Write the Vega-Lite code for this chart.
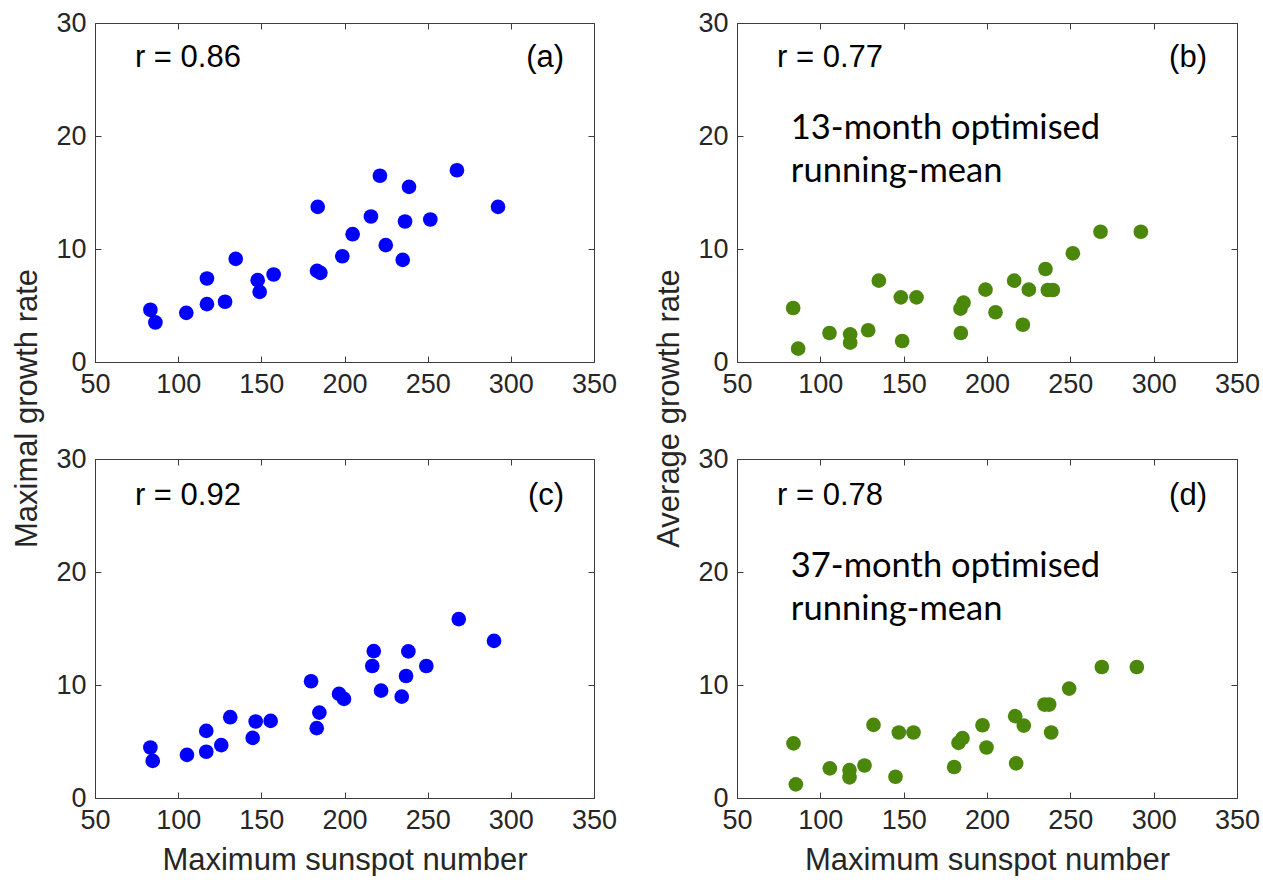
{
  "$schema": "https://vega.github.io/schema/vega-lite/v6.json",
  "background": "white",
  "padding": {"left": 11, "top": 8, "right": 0, "bottom": 0},
  "columns": 2,
  "spacing": {"row": 97, "column": 143},
  "bounds": "flush",
  "datasets": {
    "a": [
      {"sunspot": 83.3, "rate": 4.62}, {"sunspot": 86.3, "rate": 3.5}, {"sunspot": 104.9, "rate": 4.35},
      {"sunspot": 117.3, "rate": 7.39}, {"sunspot": 117.3, "rate": 5.12}, {"sunspot": 128.2, "rate": 5.33},
      {"sunspot": 134.6, "rate": 9.13}, {"sunspot": 147.8, "rate": 7.24}, {"sunspot": 149.0, "rate": 6.21},
      {"sunspot": 157.4, "rate": 7.74}, {"sunspot": 183.9, "rate": 13.73}, {"sunspot": 183.5, "rate": 8.07},
      {"sunspot": 185.5, "rate": 7.89}, {"sunspot": 198.7, "rate": 9.36}, {"sunspot": 204.9, "rate": 11.31},
      {"sunspot": 215.9, "rate": 12.88}, {"sunspot": 221.3, "rate": 16.48}, {"sunspot": 224.8, "rate": 10.34},
      {"sunspot": 235.0, "rate": 9.04}, {"sunspot": 236.4, "rate": 12.43}, {"sunspot": 238.8, "rate": 15.5},
      {"sunspot": 251.6, "rate": 12.61}, {"sunspot": 267.6, "rate": 16.97}, {"sunspot": 292.3, "rate": 13.73}
    ],
    "b": [
      {"sunspot": 83.7, "rate": 4.78}, {"sunspot": 86.7, "rate": 1.18}, {"sunspot": 105.5, "rate": 2.57},
      {"sunspot": 117.9, "rate": 2.45}, {"sunspot": 117.9, "rate": 1.71}, {"sunspot": 128.7, "rate": 2.81},
      {"sunspot": 135.1, "rate": 7.2}, {"sunspot": 148.3, "rate": 5.72}, {"sunspot": 149.1, "rate": 1.86},
      {"sunspot": 157.7, "rate": 5.72}, {"sunspot": 184.3, "rate": 2.57}, {"sunspot": 184.1, "rate": 4.72},
      {"sunspot": 185.9, "rate": 5.25}, {"sunspot": 199.1, "rate": 6.4}, {"sunspot": 205.1, "rate": 4.4},
      {"sunspot": 216.3, "rate": 7.2}, {"sunspot": 221.5, "rate": 3.3}, {"sunspot": 225.1, "rate": 6.4},
      {"sunspot": 235.1, "rate": 8.23}, {"sunspot": 236.5, "rate": 6.37}, {"sunspot": 239.5, "rate": 6.37},
      {"sunspot": 251.5, "rate": 9.62}, {"sunspot": 268.1, "rate": 11.53}, {"sunspot": 292.3, "rate": 11.53}
    ],
    "c": [
      {"sunspot": 83.3, "rate": 4.47}, {"sunspot": 84.7, "rate": 3.29}, {"sunspot": 105.3, "rate": 3.82},
      {"sunspot": 116.9, "rate": 5.94}, {"sunspot": 116.9, "rate": 4.09}, {"sunspot": 125.9, "rate": 4.68},
      {"sunspot": 131.3, "rate": 7.15}, {"sunspot": 144.8, "rate": 5.32}, {"sunspot": 146.6, "rate": 6.77},
      {"sunspot": 155.6, "rate": 6.82}, {"sunspot": 179.9, "rate": 10.33}, {"sunspot": 184.9, "rate": 7.56},
      {"sunspot": 183.3, "rate": 6.18}, {"sunspot": 196.7, "rate": 9.21}, {"sunspot": 199.7, "rate": 8.77},
      {"sunspot": 217.6, "rate": 13.0}, {"sunspot": 216.7, "rate": 11.68}, {"sunspot": 222.0, "rate": 9.5},
      {"sunspot": 234.4, "rate": 8.97}, {"sunspot": 237.0, "rate": 10.8}, {"sunspot": 238.4, "rate": 12.97},
      {"sunspot": 249.2, "rate": 11.68}, {"sunspot": 268.7, "rate": 15.83}, {"sunspot": 289.9, "rate": 13.9}
    ],
    "d": [
      {"sunspot": 83.9, "rate": 4.83}, {"sunspot": 85.3, "rate": 1.21}, {"sunspot": 105.7, "rate": 2.62},
      {"sunspot": 117.5, "rate": 2.47}, {"sunspot": 117.5, "rate": 1.83}, {"sunspot": 126.5, "rate": 2.88},
      {"sunspot": 131.9, "rate": 6.47}, {"sunspot": 145.1, "rate": 1.88}, {"sunspot": 147.1, "rate": 5.8},
      {"sunspot": 155.9, "rate": 5.8}, {"sunspot": 180.3, "rate": 2.74}, {"sunspot": 182.9, "rate": 4.88},
      {"sunspot": 185.3, "rate": 5.3}, {"sunspot": 197.3, "rate": 6.44}, {"sunspot": 199.7, "rate": 4.47},
      {"sunspot": 216.9, "rate": 7.24}, {"sunspot": 217.5, "rate": 3.06}, {"sunspot": 222.1, "rate": 6.41},
      {"sunspot": 234.5, "rate": 8.27}, {"sunspot": 237.3, "rate": 8.27}, {"sunspot": 238.5, "rate": 5.8},
      {"sunspot": 249.3, "rate": 9.68}, {"sunspot": 268.9, "rate": 11.59}, {"sunspot": 289.9, "rate": 11.59}
    ],
    "note": [{}]
  },
  "concat": [
    {
      "width": 499, "height": 339,
      "data": {"name": "a"},
      "layer": [
        {
          "mark": {"type": "point", "filled": true, "size": 215, "opacity": 1, "color": "#0000ff"},
          "encoding": {
            "x": {"field": "sunspot", "type": "quantitative", "scale": {"domain": [50, 350], "nice": false, "zero": false},
                  "axis": {"values": [50, 100, 150, 200, 250, 300, 350], "title": null}},
            "y": {"field": "rate", "type": "quantitative", "scale": {"domain": [0, 30], "nice": false},
                  "axis": {"values": [0, 10, 20, 30], "title": "Maximal growth rate", "titleY": 385}}
          }
        },
        {
          "mark": {"type": "point", "opacity": 0},
          "encoding": {
            "x": {"field": "sunspot", "type": "quantitative", "axis": {"orient": "top", "values": [50, 100, 150, 200, 250, 300, 350], "labels": false, "title": null}},
            "y": {"field": "rate", "type": "quantitative", "axis": {"orient": "right", "values": [0, 10, 20, 30], "labels": false, "title": null}}
          }
        },
        {
          "data": {"name": "note"},
          "mark": {"type": "text", "align": "left", "baseline": "middle", "fontSize": 31, "color": "#000000"},
          "encoding": {"x": {"datum": 74, "axis": null}, "y": {"datum": 26.9, "axis": null}, "text": {"value": "r = 0.86"}}
        },
        {
          "data": {"name": "note"},
          "mark": {"type": "text", "align": "right", "baseline": "middle", "fontSize": 31, "color": "#000000"},
          "encoding": {"x": {"datum": 332, "axis": null}, "y": {"datum": 26.9, "axis": null}, "text": {"value": "(a)"}}
        }
      ],
      "resolve": {"axis": {"x": "independent", "y": "independent"}}
    },
    {
      "width": 500, "height": 339,
      "data": {"name": "b"},
      "layer": [
        {
          "mark": {"type": "point", "filled": true, "size": 215, "opacity": 1, "color": "#4a870b"},
          "encoding": {
            "x": {"field": "sunspot", "type": "quantitative", "scale": {"domain": [50, 350], "nice": false, "zero": false},
                  "axis": {"values": [50, 100, 150, 200, 250, 300, 350], "title": null}},
            "y": {"field": "rate", "type": "quantitative", "scale": {"domain": [0, 30], "nice": false},
                  "axis": {"values": [0, 10, 20, 30], "title": "Average growth rate", "titleY": 385}}
          }
        },
        {
          "mark": {"type": "point", "opacity": 0},
          "encoding": {
            "x": {"field": "sunspot", "type": "quantitative", "axis": {"orient": "top", "values": [50, 100, 150, 200, 250, 300, 350], "labels": false, "title": null}},
            "y": {"field": "rate", "type": "quantitative", "axis": {"orient": "right", "values": [0, 10, 20, 30], "labels": false, "title": null}}
          }
        },
        {
          "data": {"name": "note"},
          "mark": {"type": "text", "align": "left", "baseline": "middle", "fontSize": 31, "color": "#000000"},
          "encoding": {"x": {"datum": 74, "axis": null}, "y": {"datum": 26.9, "axis": null}, "text": {"value": "r = 0.77"}}
        },
        {
          "data": {"name": "note"},
          "mark": {"type": "text", "align": "right", "baseline": "middle", "fontSize": 31, "color": "#000000"},
          "encoding": {"x": {"datum": 332, "axis": null}, "y": {"datum": 26.9, "axis": null}, "text": {"value": "(b)"}}
        },
        {
          "data": {"name": "note"},
          "mark": {"type": "text", "align": "left", "baseline": "middle", "font": "Lato", "fontSize": 34.5, "lineHeight": 43, "color": "#000000"},
          "encoding": {"x": {"datum": 82.3, "axis": null}, "y": {"datum": 20.6, "axis": null}, "text": {"value": ["13-month optimised", "running-mean"]}}
        }
      ],
      "resolve": {"axis": {"x": "independent", "y": "independent"}}
    },
    {
      "width": 499, "height": 339,
      "data": {"name": "c"},
      "layer": [
        {
          "mark": {"type": "point", "filled": true, "size": 215, "opacity": 1, "color": "#0000ff"},
          "encoding": {
            "x": {"field": "sunspot", "type": "quantitative", "scale": {"domain": [50, 350], "nice": false, "zero": false},
                  "axis": {"values": [50, 100, 150, 200, 250, 300, 350], "title": "Maximum sunspot number"}},
            "y": {"field": "rate", "type": "quantitative", "scale": {"domain": [0, 30], "nice": false},
                  "axis": {"values": [0, 10, 20, 30], "title": null}}
          }
        },
        {
          "mark": {"type": "point", "opacity": 0},
          "encoding": {
            "x": {"field": "sunspot", "type": "quantitative", "axis": {"orient": "top", "values": [50, 100, 150, 200, 250, 300, 350], "labels": false, "title": null}},
            "y": {"field": "rate", "type": "quantitative", "axis": {"orient": "right", "values": [0, 10, 20, 30], "labels": false, "title": null}}
          }
        },
        {
          "data": {"name": "note"},
          "mark": {"type": "text", "align": "left", "baseline": "middle", "fontSize": 31, "color": "#000000"},
          "encoding": {"x": {"datum": 74, "axis": null}, "y": {"datum": 26.7, "axis": null}, "text": {"value": "r = 0.92"}}
        },
        {
          "data": {"name": "note"},
          "mark": {"type": "text", "align": "right", "baseline": "middle", "fontSize": 31, "color": "#000000"},
          "encoding": {"x": {"datum": 332, "axis": null}, "y": {"datum": 26.7, "axis": null}, "text": {"value": "(c)"}}
        }
      ],
      "resolve": {"axis": {"x": "independent", "y": "independent"}}
    },
    {
      "width": 500, "height": 339,
      "data": {"name": "d"},
      "layer": [
        {
          "mark": {"type": "point", "filled": true, "size": 215, "opacity": 1, "color": "#4a870b"},
          "encoding": {
            "x": {"field": "sunspot", "type": "quantitative", "scale": {"domain": [50, 350], "nice": false, "zero": false},
                  "axis": {"values": [50, 100, 150, 200, 250, 300, 350], "title": "Maximum sunspot number"}},
            "y": {"field": "rate", "type": "quantitative", "scale": {"domain": [0, 30], "nice": false},
                  "axis": {"values": [0, 10, 20, 30], "title": null}}
          }
        },
        {
          "mark": {"type": "point", "opacity": 0},
          "encoding": {
            "x": {"field": "sunspot", "type": "quantitative", "axis": {"orient": "top", "values": [50, 100, 150, 200, 250, 300, 350], "labels": false, "title": null}},
            "y": {"field": "rate", "type": "quantitative", "axis": {"orient": "right", "values": [0, 10, 20, 30], "labels": false, "title": null}}
          }
        },
        {
          "data": {"name": "note"},
          "mark": {"type": "text", "align": "left", "baseline": "middle", "fontSize": 31, "color": "#000000"},
          "encoding": {"x": {"datum": 74, "axis": null}, "y": {"datum": 26.7, "axis": null}, "text": {"value": "r = 0.78"}}
        },
        {
          "data": {"name": "note"},
          "mark": {"type": "text", "align": "right", "baseline": "middle", "fontSize": 31, "color": "#000000"},
          "encoding": {"x": {"datum": 332, "axis": null}, "y": {"datum": 26.7, "axis": null}, "text": {"value": "(d)"}}
        },
        {
          "data": {"name": "note"},
          "mark": {"type": "text", "align": "left", "baseline": "middle", "font": "Lato", "fontSize": 34.5, "lineHeight": 43, "color": "#000000"},
          "encoding": {"x": {"datum": 82.3, "axis": null}, "y": {"datum": 20.4, "axis": null}, "text": {"value": ["37-month optimised", "running-mean"]}}
        }
      ],
      "resolve": {"axis": {"x": "independent", "y": "independent"}}
    }
  ],
  "config": {
    "font": "Liberation Sans",
    "view": {"stroke": "#3c3c3c", "strokeWidth": 1},
    "text": {"font": "Liberation Sans"},
    "axis": {
      "grid": false,
      "domain": false,
      "tickSize": -6,
      "tickColor": "#3c3c3c",
      "tickWidth": 1,
      "labelFont": "Liberation Sans",
      "labelFontSize": 27,
      "labelColor": "#262626",
      "labelPadding": 15,
      "labelFlush": false,
      "labelOverlap": false,
      "labelBound": false,
      "titleFont": "Liberation Sans",
      "titleFontSize": 31,
      "titleFontWeight": "normal",
      "titleColor": "#262626",
      "titlePadding": 12
    }
  }
}
